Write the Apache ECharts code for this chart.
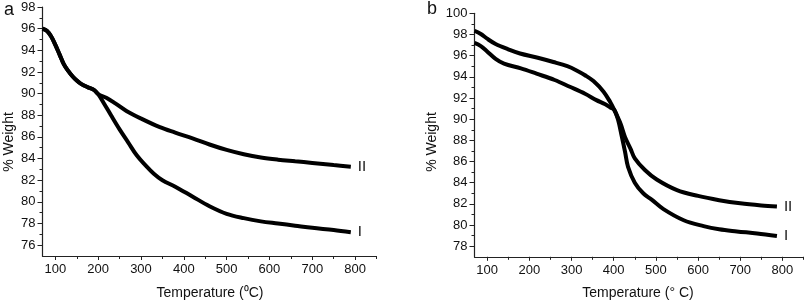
<!DOCTYPE html>
<html>
<head>
<meta charset="utf-8">
<script src="https://cdn.jsdelivr.net/npm/echarts@6/dist/echarts.min.js"></script>
<style>
html,body{margin:0;padding:0;background:#fff;}
#chart{width:805px;height:304px;}
</style>
</head>
<body>
<div id="chart"></div>
<script>
// ---- Panel a data ----
const aTempI   = [70, 80, 90, 100, 110, 120, 130, 140, 150, 160, 175, 190, 200, 215, 230, 250, 270, 290, 310, 330, 350, 380, 420, 460, 500, 540, 580, 620, 660, 700, 750, 790];
const aWeightI = [96.0, 95.8, 95.3, 94.5, 93.6, 92.7, 92.1, 91.6, 91.2, 90.9, 90.6, 90.35, 89.95, 89.0, 88.0, 86.7, 85.5, 84.3, 83.4, 82.6, 82.0, 81.4, 80.5, 79.6, 78.9, 78.5, 78.2, 78.0, 77.8, 77.6, 77.4, 77.2];
const aTempII   = [70, 80, 90, 100, 110, 120, 130, 140, 150, 160, 175, 190, 200, 220, 240, 266, 300, 344, 380, 422, 460, 500, 540, 580, 620, 660, 700, 750, 790];
const aWeightII = [96.0, 95.8, 95.3, 94.5, 93.6, 92.7, 92.1, 91.6, 91.2, 90.9, 90.6, 90.35, 89.95, 89.6, 89.1, 88.4, 87.7, 86.9, 86.4, 85.85, 85.3, 84.8, 84.4, 84.1, 83.9, 83.75, 83.6, 83.4, 83.25];
// ---- Panel b data ----
const bTempI   = [70, 85, 100, 120, 140, 180, 217, 260, 296, 332, 359, 380, 392, 401, 410, 419, 427, 434, 450, 470, 490, 518, 566, 613, 650, 692, 740, 787];
const bWeightI = [97.2, 96.9, 96.4, 95.7, 95.25, 94.8, 94.3, 93.7, 93.06, 92.4, 91.8, 91.4, 91.1, 90.9, 90.0, 88.4, 86.9, 85.5, 84.0, 83.0, 82.4, 81.5, 80.45, 79.9, 79.6, 79.4, 79.2, 78.96];
const bTempII   = [70, 85, 100, 120, 150, 178, 220, 257, 290, 312, 332, 352, 376, 392, 401, 407, 417, 427, 440, 450, 474, 502, 550, 600, 650, 700, 750, 787];
const bWeightII = [98.35, 98.05, 97.6, 97.1, 96.6, 96.2, 95.8, 95.4, 95.0, 94.6, 94.15, 93.6, 92.6, 91.6, 90.9, 90.4, 89.5, 88.3, 87.2, 86.3, 85.2, 84.3, 83.3, 82.75, 82.35, 82.05, 81.85, 81.75];
// ---- Ticks ----
const xMajor = [100, 200, 300, 400, 500, 600, 700, 800];
const xMinor = [150, 250, 350, 450, 550, 650, 750, 850];
const aYMajor = [76, 78, 80, 82, 84, 86, 88, 90, 92, 94, 96, 98];
const aYMinor = [77, 79, 81, 83, 85, 87, 89, 91, 93, 95, 97];
const bYMajor = [78, 80, 82, 84, 86, 88, 90, 92, 94, 96, 98, 100];
const bYMinor = [79, 81, 83, 85, 87, 89, 91, 93, 95, 97, 99];
const xRange = [70, 850];
const aYRange = [75, 98];
const bYRange = [77, 100];

const FONT = 'Liberation Sans, Arial, sans-serif';
const AX = '#222';
const pairs = (t, w) => t.map((v, i) => [v, w[i]]);

function xAxes(gi) {
  return [
    { type: 'value', gridIndex: gi, position: 'bottom', min: xRange[0], max: xRange[1],
      splitLine: { show: false },
      axisLine: { show: true, lineStyle: { color: AX, width: 1.2 } },
      axisTick: { show: true, length: 4, customValues: xMajor, lineStyle: { color: AX } },
      axisLabel: { show: true, customValues: xMajor, margin: 7, color: '#111', fontSize: 13, fontFamily: FONT } },
    { type: 'value', gridIndex: gi, position: 'bottom', offset: 0, min: xRange[0], max: xRange[1],
      splitLine: { show: false }, axisLine: { show: false },
      axisTick: { show: true, length: 3, customValues: xMinor, lineStyle: { color: AX } },
      axisLabel: { show: false } }
  ];
}
function yAxes(gi, rng, maj, min) {
  return [
    { type: 'value', gridIndex: gi, position: 'left', min: rng[0], max: rng[1],
      splitLine: { show: false },
      axisLine: { show: true, lineStyle: { color: AX, width: 1.2 } },
      axisTick: { show: true, length: 5, customValues: maj, lineStyle: { color: AX } },
      axisLabel: { show: true, customValues: maj, margin: 7, color: '#111', fontSize: 13, fontFamily: FONT } },
    { type: 'value', gridIndex: gi, position: 'left', offset: 0, min: rng[0], max: rng[1],
      splitLine: { show: false }, axisLine: { show: false },
      axisTick: { show: true, length: 3, customValues: min, lineStyle: { color: AX } },
      axisLabel: { show: false } }
  ];
}
function line(name, data, xi, yi) {
  return {
    type: 'line', name: name, data: data, xAxisIndex: xi, yAxisIndex: yi,
    smooth: 0.35, showSymbol: false, silent: true,
    lineStyle: { color: '#000', width: 4 },
    endLabel: { show: true, formatter: name, distance: 7, color: '#111', fontSize: 15, fontFamily: FONT }
  };
}

const chart = echarts.init(document.getElementById('chart'), null, { renderer: 'canvas' });
chart.setOption({
  animation: false,
  backgroundColor: '#fff',
  grid: [
    { left: 42.5, top: 7, width: 334, height: 249 },
    { left: 474.5, top: 13.3, width: 329, height: 243.5 }
  ],
  xAxis: xAxes(0).concat(xAxes(1)),
  yAxis: yAxes(0, aYRange, aYMajor, aYMinor).concat(yAxes(1, bYRange, bYMajor, bYMinor)),
  series: [
    line('I', pairs(aTempI, aWeightI), 0, 0),
    line('II', pairs(aTempII, aWeightII), 0, 0),
    line('I', pairs(bTempI, bWeightI), 2, 2),
    line('II', pairs(bTempII, bWeightII), 2, 2)
  ],
  graphic: [
    { type: 'text', left: 4, top: 1, style: { text: 'a', font: '18px ' + FONT, fill: '#111' } },
    { type: 'text', left: 427, top: 0, style: { text: 'b', font: '18px ' + FONT, fill: '#111' } },
    { type: 'text', x: 9, y: 142, rotation: Math.PI / 2, style: { text: '% Weight', font: '14px ' + FONT, fill: '#111', align: 'center', verticalAlign: 'middle' } },
    { type: 'text', x: 432, y: 142, rotation: Math.PI / 2, style: { text: '% Weight', font: '14px ' + FONT, fill: '#111', align: 'center', verticalAlign: 'middle' } },
    { type: 'text', x: 210, y: 293, style: { text: 'Temperature (\u2070C)', font: '14px ' + FONT, fill: '#111', align: 'center', verticalAlign: 'middle' } },
    { type: 'text', x: 638, y: 293, style: { text: 'Temperature (\u00B0 C)', font: '14px ' + FONT, fill: '#111', align: 'center', verticalAlign: 'middle' } }
  ]
});
</script>
</body>
</html>
